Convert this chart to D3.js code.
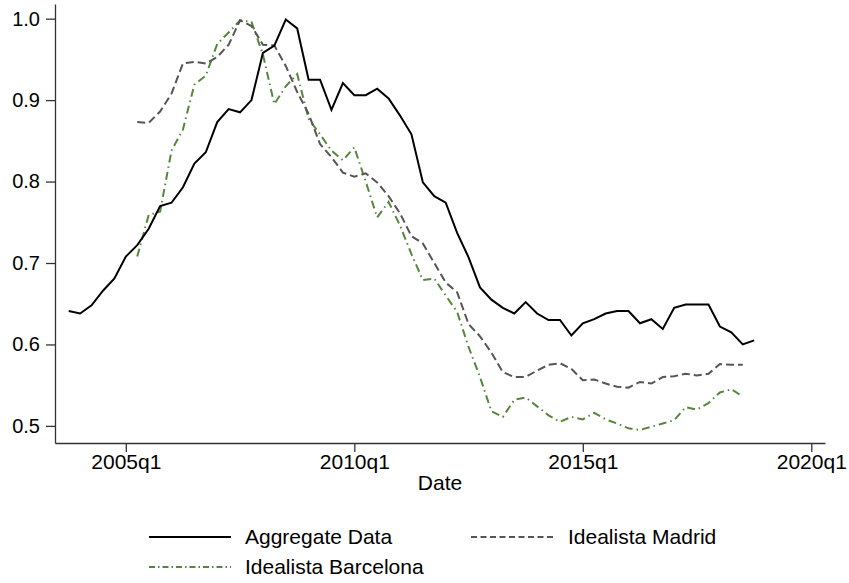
<!DOCTYPE html>
<html>
<head>
<meta charset="utf-8">
<script src="https://cdn.jsdelivr.net/npm/d3@7"></script>
<style>
  body { margin: 0; background: #fff; }
  text { font-family: "Liberation Sans", Arial, sans-serif; fill: #000; }
</style>
</head>
<body>
<div id="chart"></div>
<script>
// quarters are counted from 2005q1 (= 0)
var aggStart = -5;   // 2003q4
var aggregate = [0.641, 0.638, 0.648, 0.666, 0.681, 0.708, 0.722, 0.742, 0.770, 0.774,
    0.793, 0.822, 0.836, 0.873, 0.889, 0.885, 0.900, 0.958, 0.967, 0.999,
    0.988, 0.925, 0.925, 0.888, 0.921, 0.906, 0.906, 0.914, 0.902, 0.881,
    0.858, 0.799, 0.782, 0.774, 0.737, 0.707, 0.670, 0.655, 0.645, 0.638,
    0.652, 0.638, 0.630, 0.630, 0.611, 0.626, 0.631, 0.638, 0.641, 0.641,
    0.626, 0.631, 0.619, 0.645, 0.649, 0.649, 0.649, 0.622, 0.615, 0.600, 0.605];

var madStart = 1;    // 2005q2
var madrid = [0.873, 0.872, 0.886, 0.908, 0.945, 0.947, 0.945, 0.953, 0.968, 0.998,
    0.991, 0.968, 0.967, 0.942, 0.910, 0.883, 0.846, 0.830, 0.811, 0.806,
    0.810, 0.799, 0.782, 0.761, 0.733, 0.724, 0.700, 0.676, 0.664, 0.625,
    0.610, 0.590, 0.566, 0.560, 0.560, 0.568, 0.575, 0.577, 0.570, 0.556,
    0.557, 0.552, 0.548, 0.547, 0.554, 0.552, 0.560, 0.561, 0.564, 0.562,
    0.564, 0.576, 0.575, 0.575];

var bcnStart = 1;    // 2005q2
var barcelona = [0.708, 0.759, 0.763, 0.838, 0.864, 0.919, 0.930, 0.969, 0.983, 0.998,
    0.996, 0.956, 0.895, 0.917, 0.932, 0.877, 0.858, 0.838, 0.826, 0.842,
    0.800, 0.756, 0.775, 0.746, 0.711, 0.679, 0.681, 0.660, 0.640, 0.597,
    0.560, 0.518, 0.511, 0.532, 0.535, 0.524, 0.513, 0.505, 0.511, 0.508,
    0.516, 0.508, 0.503, 0.497, 0.495, 0.499, 0.503, 0.507, 0.523, 0.520,
    0.528, 0.541, 0.545, 0.536];

var xTicks = [0, 20, 40, 60];
var xTickLabels = ["2005q1", "2010q1", "2015q1", "2020q1"];
var yTicks = [0.5, 0.6, 0.7, 0.8, 0.9, 1.0];

var seriesNames = ["Aggregate Data", "Idealista Madrid", "Idealista Barcelona"];

var width = 849, height = 583;

var svg = d3.select("#chart").append("svg")
    .attr("width", width)
    .attr("height", height);

svg.append("rect").attr("width", width).attr("height", height).attr("fill", "#fff");

var x = d3.scaleLinear()
    .domain([-6.2, 61.2])
    .range([55, 825]);

var y = d3.scaleLinear()
    .domain([0.479, 1.018])
    .range([443, 4]);

// X axis
var xAxis = svg.append("g")
    .attr("transform", "translate(0,443)")
    .call(d3.axisBottom(x)
        .tickValues(xTicks)
        .tickFormat(function(d, i) { return xTickLabels[i]; })
        .tickSize(9)
        .tickSizeOuter(0)
        .tickPadding(2));

// Y axis
var yAxis = svg.append("g")
    .attr("transform", "translate(55,0)")
    .call(d3.axisLeft(y)
        .tickValues(yTicks)
        .tickFormat(d3.format(".1f"))
        .tickSize(9)
        .tickSizeOuter(0)
        .tickPadding(6));

xAxis.selectAll("text").style("font-size", "21px").attr("fill", "#000");
yAxis.selectAll("text").style("font-size", "20px").attr("fill", "#000");
svg.selectAll(".domain, .tick line").attr("stroke", "#333").attr("stroke-width", 1.3);

// axis title
svg.append("text")
    .attr("x", 440)
    .attr("y", 490)
    .attr("text-anchor", "middle")
    .style("font-size", "21px")
    .text("Date");

var line = d3.line()
    .x(function(d) { return x(d.q); })
    .y(function(d) { return y(d.v); });

function toPoints(start, vals) {
    return vals.map(function(v, i) { return {q: start + i, v: v}; });
}

var styles = [
    {color: "#000000", dash: null, width: 2},
    {color: "#555555", dash: "8,4", width: 2},
    {color: "#55873a", dash: "8,4,1.5,4", width: 2}
];

var allSeries = [toPoints(aggStart, aggregate), toPoints(madStart, madrid), toPoints(bcnStart, barcelona)];

// draw in reverse so the aggregate line sits on top
[2, 1, 0].forEach(function(i) {
    svg.append("path")
        .datum(allSeries[i])
        .attr("fill", "none")
        .attr("stroke", styles[i].color)
        .attr("stroke-width", styles[i].width)
        .attr("stroke-dasharray", styles[i].dash)
        .attr("stroke-linejoin", "miter")
        .attr("d", line);
});

// legend
var legendPos = [
    {lx: 149, tx: 245, ly: 537},
    {lx: 471, tx: 568, ly: 537},
    {lx: 149, tx: 245, ly: 567}
];

legendPos.forEach(function(p, i) {
    svg.append("line")
        .attr("x1", p.lx).attr("x2", p.lx + 82)
        .attr("y1", p.ly).attr("y2", p.ly)
        .attr("stroke", styles[i].color)
        .attr("stroke-width", styles[i].width)
        .attr("stroke-dasharray", i == 1 ? "6,3.5" : i == 2 ? "6,3,1.5,3" : null);
    svg.append("text")
        .attr("x", p.tx)
        .attr("y", p.ly + 7)
        .style("font-size", "21px")
        .text(seriesNames[i]);
});
</script>
</body>
</html>
